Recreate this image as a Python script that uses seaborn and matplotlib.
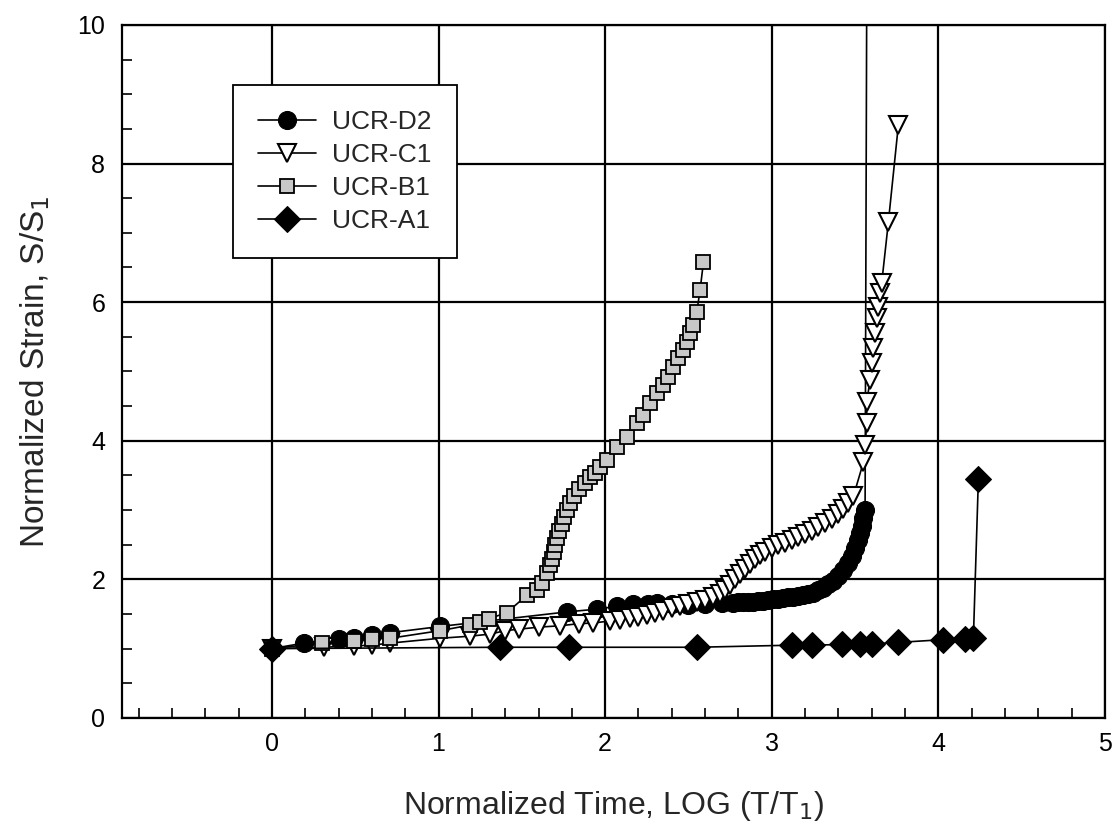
import seaborn as sns
import matplotlib
matplotlib.use("Agg")
import matplotlib.pyplot as plt
from matplotlib.ticker import MultipleLocator

# UCR-D2 (filled circles); last point runs off the top of the chart
d2_x = [0.00, 0.19, 0.40, 0.49, 0.60, 0.71, 1.01, 1.77, 1.95, 2.07, 2.17, 2.26, 2.31,
        2.40, 2.50, 2.60, 2.70, 2.77, 2.80, 2.83, 2.86, 2.89, 2.92, 2.95, 2.98,
        3.01, 3.04, 3.07, 3.10, 3.13, 3.16, 3.19, 3.22, 3.25, 3.28,
        3.31, 3.34, 3.37, 3.40, 3.43, 3.46, 3.48, 3.50, 3.52, 3.53,
        3.54, 3.55, 3.56, 3.57]
d2_y = [1.00, 1.08, 1.14, 1.16, 1.20, 1.23, 1.32, 1.53, 1.57, 1.61, 1.64, 1.65, 1.66,
        1.64, 1.63, 1.64, 1.66, 1.66, 1.67, 1.67, 1.68, 1.68, 1.69, 1.69, 1.70,
        1.71, 1.72, 1.73, 1.74, 1.75, 1.76, 1.78, 1.79, 1.81, 1.85,
        1.88, 1.93, 1.98, 2.05, 2.13, 2.24, 2.34, 2.45, 2.57, 2.67,
        2.77, 2.88, 3.00, 10.5]

# UCR-C1 (open down triangles)
c1_x = [0.00, 0.31, 0.49, 0.60, 0.71, 1.01, 1.19, 1.31, 1.40, 1.48,
        1.60, 1.73, 1.84, 1.93, 2.03, 2.09, 2.15, 2.20, 2.25, 2.30,
        2.35, 2.40, 2.45, 2.50, 2.55, 2.60, 2.65, 2.69, 2.72, 2.75,
        2.78, 2.81, 2.84, 2.87, 2.90, 2.93, 2.96, 3.00, 3.04, 3.08,
        3.12, 3.16, 3.20, 3.24, 3.28, 3.32, 3.36, 3.40, 3.43, 3.46,
        3.49, 3.55, 3.56, 3.57, 3.57, 3.59, 3.60, 3.61, 3.62, 3.63,
        3.64, 3.65, 3.66, 3.70, 3.76]
c1_y = [1.00, 1.02, 1.04, 1.05, 1.08, 1.15, 1.18, 1.21, 1.26, 1.28,
        1.31, 1.33, 1.36, 1.37, 1.40, 1.42, 1.44, 1.46, 1.49, 1.52,
        1.55, 1.58, 1.61, 1.64, 1.67, 1.70, 1.74, 1.79, 1.85, 1.92,
        2.00, 2.08, 2.15, 2.22, 2.29, 2.35, 2.40, 2.45, 2.49, 2.53,
        2.57, 2.61, 2.65, 2.70, 2.75, 2.81, 2.87, 2.94, 3.01, 3.10,
        3.20, 3.69, 3.94, 4.25, 4.56, 4.88, 5.12, 5.34, 5.55, 5.77,
        5.93, 6.13, 6.28, 7.16, 8.56]

# UCR-B1 (hatched squares)
b1_x = [0.00, 0.30, 0.49, 0.60, 0.71, 1.01, 1.19, 1.25, 1.30, 1.41,
        1.53, 1.59, 1.62, 1.65, 1.67, 1.68, 1.69, 1.70, 1.71, 1.72,
        1.74, 1.75, 1.77, 1.79, 1.81, 1.84, 1.88, 1.91, 1.94, 1.97,
        2.01, 2.07, 2.13, 2.19, 2.23, 2.27, 2.31, 2.35, 2.38, 2.41,
        2.44, 2.47, 2.49, 2.51, 2.53, 2.55, 2.57, 2.59]
b1_y = [1.00, 1.08, 1.11, 1.14, 1.15, 1.26, 1.34, 1.39, 1.43, 1.52,
        1.77, 1.85, 1.95, 2.09, 2.20, 2.30, 2.40, 2.50, 2.60, 2.70,
        2.80, 2.90, 3.00, 3.10, 3.20, 3.30, 3.39, 3.47, 3.53, 3.62,
        3.72, 3.91, 4.05, 4.25, 4.37, 4.54, 4.69, 4.81, 4.92, 5.06,
        5.19, 5.31, 5.43, 5.56, 5.67, 5.86, 6.18, 6.58]

# UCR-A1 (filled diamonds)
a1_x = [0.00, 1.37, 1.78, 2.55, 3.12, 3.24, 3.42, 3.53, 3.60, 3.76, 4.03, 4.16, 4.21, 4.24]
a1_y = [1.00, 1.02, 1.02, 1.02, 1.05, 1.05, 1.06, 1.07, 1.07, 1.09, 1.13, 1.14, 1.15, 3.45]

x_ticks = [0, 1, 2, 3, 4, 5]
y_ticks = [0, 2, 4, 6, 8, 10]

sns.set_style("ticks")
plt.rcParams['font.family'] = ['Liberation Sans', 'DejaVu Sans']
plt.rcParams['xtick.direction'] = 'in'
plt.rcParams['ytick.direction'] = 'in'

fig = plt.figure(figsize=(11.19, 8.3), dpi=100)
ax = fig.add_axes([0.109, 0.135, 0.8785, 0.835])

series = [
    (d2_x, d2_y, "UCR-D2", dict(marker='o', markersize=13, markerfacecolor='black', markeredgecolor='black')),
    (c1_x, c1_y, "UCR-C1", dict(marker='v', markersize=13, markerfacecolor='white', markeredgecolor='black', markeredgewidth=1.5)),
    (b1_x, b1_y, "UCR-B1", dict(marker='s', markersize=10, markerfacecolor='#c8c8c8', markeredgecolor='black', markeredgewidth=1.3)),
    (a1_x, a1_y, "UCR-A1", dict(marker='D', markersize=13.5, markerfacecolor='black', markeredgecolor='black')),
]
for xs, ys, name, kw in series:
    sns.lineplot(x=xs, y=ys, ax=ax, color='black', linewidth=1.2, sort=False,
                 estimator=None, label=name, **kw)

ax.set_xlim(-0.9, 5)
ax.set_ylim(0, 10)
ax.set_xticks(x_ticks)
ax.set_yticks(y_ticks)
ax.xaxis.set_minor_locator(MultipleLocator(0.2))
ax.yaxis.set_minor_locator(MultipleLocator(0.5))
ax.tick_params(which='major', length=0, labelsize=18, colors='black')
ax.tick_params(axis='x', which='major', pad=10)
ax.tick_params(axis='y', which='major', pad=12)
ax.tick_params(which='minor', length=7, width=1.2, color='black')
ax.grid(True, which='major', color='black', linewidth=1.6)
for s in ax.spines.values():
    s.set_color('black')
    s.set_linewidth(1.6)

ax.set_xlabel("Normalized Time, LOG (T/T$_1$)", fontsize=23, labelpad=24)
ax.set_ylabel("Normalized Strain, S/S$_1$", fontsize=24, labelpad=18)

leg = ax.legend(loc='upper left', bbox_to_anchor=(0.113, 0.913), borderaxespad=0,
                fancybox=False, edgecolor='black', framealpha=1, fontsize=19,
                handlelength=2.2, handletextpad=0.6, labelspacing=0.34,
                borderpad=0.95)
leg.get_frame().set_linewidth(1.3)

fig.savefig("out.png", dpi=100)
